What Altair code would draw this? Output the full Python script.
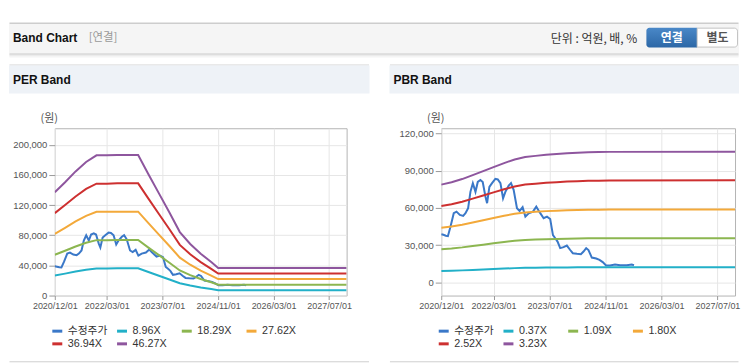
import altair as alt
import pandas as pd

# ---------------- data ----------------
price_dates = ["2020-12-01", "2020-12-20", "2021-01-10", "2021-01-28", "2021-02-20", "2021-03-20",
               "2021-04-13", "2021-05-12", "2021-06-10", "2021-06-30", "2021-07-23", "2021-08-12",
               "2021-09-02", "2021-09-25", "2021-10-15", "2021-11-07", "2021-11-27", "2021-12-21",
               "2022-01-04", "2022-01-24", "2022-02-16", "2022-03-17", "2022-04-07", "2022-04-30",
               "2022-05-23", "2022-06-12", "2022-07-11", "2022-07-31", "2022-08-23", "2022-09-21",
               "2022-10-14", "2022-11-09", "2022-12-03", "2023-01-01", "2023-02-07", "2023-03-08",
               "2023-04-03", "2023-05-11", "2023-06-09", "2023-07-07", "2023-07-31", "2023-08-20",
               "2023-09-09", "2023-10-02", "2023-10-31", "2023-11-29", "2023-12-28", "2024-01-20",
               "2024-02-24", "2024-03-30", "2024-04-22", "2024-05-15", "2024-06-04", "2024-07-03",
               "2024-08-10", "2024-09-08", "2024-10-06", "2024-11-04", "2024-12-09", "2025-01-21",
               "2025-03-06", "2025-05-03", "2025-06-15", "2025-07-05"]
price = [38800, 38300, 37500, 37200, 45000, 55700,
         57000, 54400, 53600, 55700, 59800, 73000,
         80000, 73000, 81000, 82600, 81000, 69000,
         63800, 77000, 80000, 83500, 83000, 80000,
         67800, 73000, 78000, 80000, 74600, 59800,
         57600, 60600, 53000, 55700, 57000, 61000,
         57000, 51700, 53000, 51000, 38000, 35500,
         32800, 27500, 28300, 29600, 26000, 23400,
         22900, 22600, 24800, 27500, 26000, 19900,
         19100, 18000, 16200, 13500, 13500, 14300,
         13700, 13700, 14300, 13700]

eps_dates = ["2020-12-01", "2021-03-01", "2021-06-01", "2021-09-01", "2021-12-01", "2022-03-01",
             "2022-06-01", "2022-09-01", "2022-12-01", "2023-03-01", "2023-06-01", "2023-09-01",
             "2023-12-01", "2024-03-01", "2024-06-01", "2024-09-01", "2024-11-01", "2027-12-01"]
eps = [2960, 3250, 3560, 3830, 4020, 4020, 4030, 4030, 4030, 3480, 2930, 2380,
       1820, 1480, 1200, 960, 790, 790]

bps_dates = ["2020-12-01", "2021-03-01", "2021-06-01", "2021-09-01", "2021-12-01", "2022-03-01",
             "2022-06-01", "2022-09-01", "2022-12-01", "2023-03-01", "2023-06-01", "2023-09-01",
             "2023-12-01", "2024-03-01", "2024-06-01", "2024-09-01", "2024-12-01", "2027-12-01"]
bps = [24400, 25000, 25800, 26800, 27800, 28800, 29800, 30700, 31300, 31600, 31900, 32050,
       32250, 32400, 32500, 32550, 32600, 32650]

per_mult = [8.96, 18.29, 27.62, 36.94, 46.27]
pbr_mult = [0.37, 1.09, 1.80, 2.52, 3.23]
price_name = "수정주가"
series_colors = ["#3a78c8", "#22b0c8", "#8cb650", "#f3a93a", "#cd3030", "#8e569e"]

per_yticks = [0, 40000, 80000, 120000, 160000, 200000]
pbr_yticks = [0, 30000, 60000, 90000, 120000]
x_tick_dates = [(2020, 12), (2022, 3), (2023, 7), (2024, 11), (2026, 3), (2027, 7)]

# ---------------- tables ----------------
FONT = "Liberation Sans, Noto Sans CJK KR, sans-serif"
KFONT = "Noto Sans CJK KR, sans-serif"


def band_table(dates, base, mults):
    rows = []
    for m in mults:
        name = f"{m:.2f}X"
        for d, b in zip(dates, base):
            rows.append({"date": d + "T00:00:00", "series": name, "value": b * m})
    return pd.DataFrame(rows)


price_df = pd.DataFrame({"date": [d + "T00:00:00" for d in price_dates],
                         "series": price_name, "value": price})
per_df = band_table(eps_dates, eps, per_mult)
pbr_df = band_table(bps_dates, bps, pbr_mult)
per_names = [price_name] + [f"{m:.2f}X" for m in per_mult]
pbr_names = [price_name] + [f"{m:.2f}X" for m in pbr_mult]

one = pd.DataFrame({"k": [0]})


def rect(x, x2, y, y2, **kw):
    return alt.Chart(one).mark_rect(**kw).encode(
        x=alt.value(x), x2=alt.value(x2), y=alt.value(y), y2=alt.value(y2))


def hline(x, x2, y, color):
    return alt.Chart(one).mark_rule(color=color, strokeWidth=1).encode(
        x=alt.value(x), x2=alt.value(x2), y=alt.value(y))


def label(txt, x, y, **kw):
    return alt.Chart(one).mark_text(text=txt, baseline="middle", **kw).encode(
        x=alt.value(x), y=alt.value(y))


x_scale = alt.Scale(domain=[alt.DateTime(year=2020, month=12, date=1),
                            alt.DateTime(year=2027, month=12, date=1)])
x_axis = alt.Axis(values=[alt.DateTime(year=y, month=m, date=1) for y, m in x_tick_dates],
                  format="%Y/%m/%d", title=None, labelFontSize=9, labelColor="#555",
                  labelFont=FONT, tickColor="#999", tickSize=4, labelPadding=2,
                  domain=False, grid=True, gridColor="#e6e6e6", labelFlush=False,
                  labelOverlap=False)


def band_panel(bands, names, yticks, ydomain, title, left_ext, right_ext):
    y_axis = alt.Axis(values=yticks, format=",d", labelFontSize=9.5, labelColor="#555",
                      labelFont=FONT, tickColor="#999", tickSize=6, labelPadding=2,
                      domain=False, grid=True, gridColor="#e6e6e6", labelOverlap=False,
                      title="(원)", titleAngle=0, titleX=-6, titleY=-10, titleAlign="center",
                      titleBaseline="middle", titleFontWeight="normal", titleFontSize=11,
                      titleColor="#555", titleFont=KFONT)
    color = alt.Color("series:N", scale=alt.Scale(domain=names, range=series_colors),
                      legend=alt.Legend(orient="none", legendX=-4, legendY=197, columns=4,
                                        direction="horizontal", values=names,
                                        gridAlign="all", symbolType="stroke",
                                        symbolStrokeWidth=3, symbolSize=100, title=None,
                                        labelFontSize=10.8, labelColor="#333", labelFont=FONT,
                                        columnPadding=3, rowPadding=0, padding=0))
    base_x = alt.X("date:T", scale=x_scale, axis=x_axis)
    base_y = alt.Y("value:Q", scale=alt.Scale(domain=ydomain, nice=False, zero=False),
                   axis=y_axis)
    price_line = alt.Chart(price_df).mark_line(strokeWidth=2, clip=True).encode(
        x=base_x, y=base_y, color=color)
    band_lines = alt.Chart(bands).mark_line(strokeWidth=2, clip=True).encode(
        x=base_x, y=base_y, color=color, detail="series:N")
    deco = [
        hline(left_ext + 0.5, right_ext - 0.5, -63.5, "#d4d4d4"),
        rect(left_ext, right_ext, -63, -35, fill="#eef2f7"),
        label(title, left_ext + 4, -48, fontSize=12, fontWeight="bold", color="#111",
              font=FONT, align="left"),
        hline(left_ext + 0.5, right_ext - 0.5, 234.5, "#cfcfcf"),
    ]
    return deco, [price_line, band_lines]


per_deco, per_lines = band_panel(per_df, per_names, per_yticks, [0, 222000],
                                 "PER Band", -46, 316)
pbr_deco, pbr_lines = band_panel(pbr_df, pbr_names, pbr_yticks, [-10800, 124400],
                                 "PBR Band", -52, 299)

grad = alt.Gradient(gradient="linear", x1=0, y1=0, x2=0, y2=1,
                    stops=[alt.GradientStop(offset=0, color="#4a88c8"),
                           alt.GradientStop(offset=1, color="#2c67a6")])
header = [
    rect(-46, 687, -105, -75, fill="#f5f5f5"),
    hline(-45.5, 686.5, -105.5, "#b5b5b5"),
    hline(-45.5, 686.5, -74.5, "#c2c2c2"),
    hline(-45.5, 686.5, -73.5, "#dcdcdc"),
    hline(-45.5, 686.5, -72.5, "#eaeaea"),
    hline(-45.5, 686.5, -71.5, "#f4f4f4"),
    label("Band Chart", -42, -91, fontSize=12, fontWeight="bold", color="#111",
          font=FONT, align="left"),
    label("[연결]", 34, -91, fontSize=11.5, color="#999", font=KFONT, align="left"),
    label("단위 : 억원, 배, %", 498, -90, fontSize=12, color="#333", font=KFONT,
          align="left"),
    rect(594, 645, -101, -81, fill=grad, cornerRadiusTopLeft=3, cornerRadiusBottomLeft=3),
    rect(645, 685.5, -100.5, -81.5, fill="#ffffff", stroke="#c4c4c4", strokeWidth=1,
         cornerRadiusTopRight=3, cornerRadiusBottomRight=3),
    label("연결", 619.5, -91, fontSize=12, fontWeight="bold", color="#ffffff", font=KFONT,
          align="center"),
    label("별도", 665.5, -91, fontSize=12, fontWeight="bold", color="#555", font=KFONT,
          align="center"),
]

per_chart = alt.layer(*(per_deco + header + per_lines)).properties(width=293, height=168)
pbr_chart = alt.layer(*(pbr_deco + pbr_lines)).properties(width=295, height=168)

chart = alt.hconcat(per_chart, pbr_chart, spacing=95, bounds="flush").resolve_scale(
    x="independent", y="independent", color="independent"
).resolve_legend(color="independent").properties(
    padding={"top": 13, "left": 0, "right": 0, "bottom": 0},
    background="#ffffff",
).configure_view(stroke="#b3b3b3", strokeWidth=1)

chart.save("out.html", embed_options={"renderer": "svg", "actions": False})
